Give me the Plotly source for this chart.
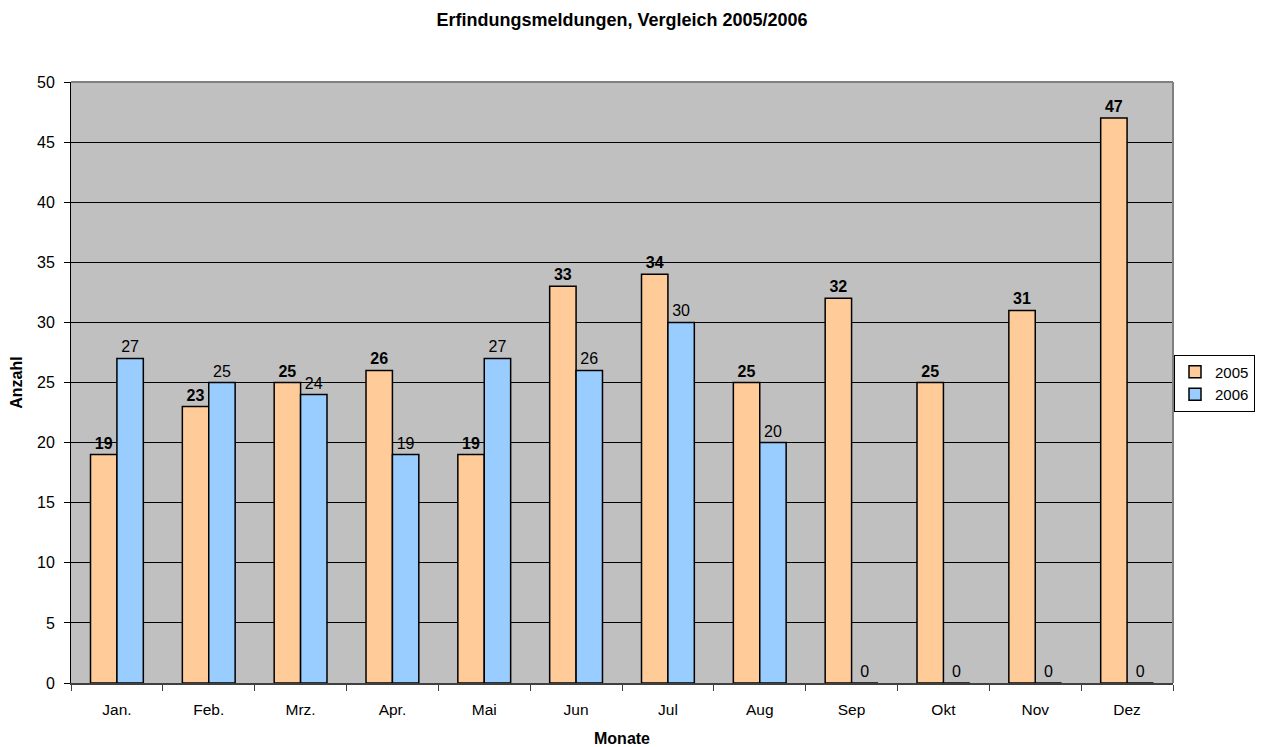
import plotly.graph_objects as go

months = ["Jan.", "Feb.", "Mrz.", "Apr.", "Mai", "Jun", "Jul", "Aug", "Sep", "Okt", "Nov", "Dez"]
values_2005 = [19, 23, 25, 26, 19, 33, 34, 25, 32, 25, 31, 47]
values_2006 = [27, 25, 24, 19, 27, 26, 30, 20, 0, 0, 0, 0]
y_ticks = list(range(0, 51, 5))

FONT = "Liberation Sans, Arial, sans-serif"

# page body has an 8px default margin; figure is sized/placed to compensate
W, H = 1255, 739

fig = go.Figure()
fig.add_trace(go.Bar(
    name="2005", x=months, y=values_2005,
    marker=dict(color="#FFCC99", line=dict(color="black", width=1.5)),
    text=[str(v) for v in values_2005], textposition="outside",
    textfont=dict(family=FONT, size=16, color="black", weight="bold"),
    cliponaxis=False,
))
fig.add_trace(go.Bar(
    name="2006", x=months, y=values_2006,
    marker=dict(color="#99CCFF", line=dict(color="black", width=1.5)),
    text=[str(v) for v in values_2006], textposition="outside",
    textfont=dict(family=FONT, size=16, color="black"),
    cliponaxis=False,
))

fig.update_layout(
    width=W, height=H,
    margin=dict(l=63, r=90, t=74, b=64),
    paper_bgcolor="white", plot_bgcolor="#C0C0C0",
    barmode="group", bargap=0.425, bargroupgap=0,
    font=dict(family=FONT, size=15, color="black"),
    title=dict(text="<b>Erfindungsmeldungen, Vergleich 2005/2006</b>",
               x=0.5, xref="paper", y=1 - 12 / H, yanchor="middle",
               font=dict(size=18, family=FONT)),
    showlegend=True,
    legend=dict(xref="container", yref="container",
                x=(1174 - 8) / W, xanchor="left",
                y=1 - (383 - 8) / H, yanchor="middle",
                bordercolor="black", borderwidth=1, bgcolor="white",
                font=dict(size=15, family=FONT), traceorder="normal",
                itemwidth=30, tracegroupgap=0),
)
fig.update_xaxes(
    title=dict(text="<b>Monate</b>", font=dict(size=16), standoff=15),
    tickfont=dict(size=15.5),
    showline=True, linecolor="#404040", linewidth=1.5,
    ticks="outside", tickson="boundaries", ticklen=6, tickcolor="#404040",
    ticklabelstandoff=12,
    showgrid=False, automargin=False,
)
fig.update_yaxes(
    title=dict(text="<b>Anzahl</b>", font=dict(size=16), standoff=10),
    tickfont=dict(size=16),
    range=[0, 50], tickvals=y_ticks,
    showline=True, linecolor="black", linewidth=1,
    ticks="outside", ticklen=6, tickcolor="black",
    ticklabelstandoff=6,
    showgrid=True, gridcolor="black", gridwidth=1,
    zeroline=False, automargin=False,
)
# gray plot area border on top and right
fig.add_shape(type="line", xref="paper", yref="paper", x0=0, x1=1, y0=1, y1=1,
              line=dict(color="#808080", width=2))
fig.add_shape(type="line", xref="paper", yref="paper", x0=1, x1=1, y0=0, y1=1,
              line=dict(color="#808080", width=2))

fig.write_html("out.html")
